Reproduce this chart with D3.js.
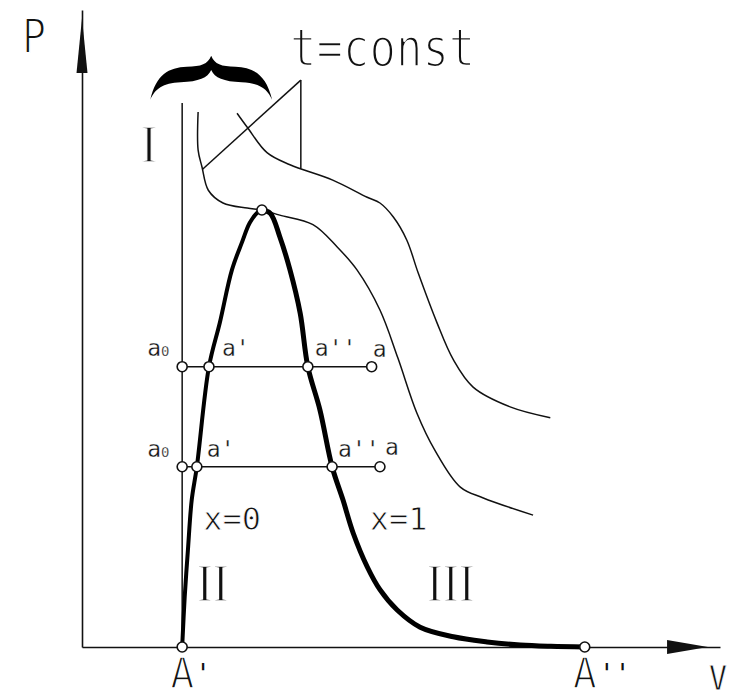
<!DOCTYPE html>
<html>
<head>
<meta charset="utf-8">
<script src="https://cdn.jsdelivr.net/npm/d3@7"></script>
<style>
  html, body { margin: 0; background: #fff; }
  svg { display: block; }
</style>
</head>
<body>
<svg id="chart" width="732" height="699"></svg>
<script>
// p–v diagram: saturation dome (x=0 / x=1), two isotherms, two isobars.
// Units: v and p on a 0..100 relative scale.

// boundary curve x = 0 (saturated liquid), from A' up to the critical point
const satLiquid = [[15.7,0],[16.1,7.9],[16.6,15.2],[17.2,23.1],[18.0,28.3],[19.9,44.0],
  [21.6,50.9],[23.5,59.2],[25.1,63.6],[26.3,66.6],[27.6,68.3],[28.2,68.6]];
// boundary curve x = 1 (dry saturated vapour), from the critical point down to A''
const satVapour = [[28.2,68.6],[29.5,68.1],[31.0,64.4],[32.6,59.2],[34.2,52.4],[35.4,44.0],
  [37.3,37.2],[39.2,28.3],[40.9,23.1],[42.5,17.9],[44.7,12.6],[46.7,9.0],[49.4,5.8],
  [53.0,3.1],[58.2,1.6],[63.5,0.8],[68.7,0.3],[73.5,0.1],[78.8,0]];
// critical isotherm (passes through the critical point)
const isothermCritical = [[18.2,84.0],[18.2,78.0],[18.8,75.4],[19.8,71.7],[22.1,69.7],
  [25.9,68.9],[28.2,68.6],[31.0,67.8],[36.2,66.3],[40.0,62.8],[43.1,59.2],[46.7,52.9],
  [49.5,45.4],[52.5,36.7],[55.3,30.9],[59.3,25.1],[62.9,23.4],[70.7,20.7]];
// supercritical isotherm
const isothermHigh = [[24.3,83.8],[25.9,81.6],[29.0,77.6],[32.6,75.7],[39.3,73.3],
  [44.7,70.6],[46.7,69.7],[48.8,67.5],[50.9,63.9],[52.7,58.7],[55.6,51.0],[58.2,45.1],
  [61.3,40.8],[67.1,37.7],[73.4,36.0]];
// liquid limit line (v0 at the lowest temperature)
const liquidLimit = [[15.7,0],[15.7,85.4]];
// isobars: pressure and the states a0, a', a'', a along each one
const isobarPressure = [44.0, 28.3];
const isobarVolumes = [[15.7,19.9,35.4,45.4],[15.7,18.0,39.2,46.7]];
const stateNames = ["a0", "a'", "a''", "a"];
// characteristic points
const criticalPoint = [28.2, 68.6];
const pointA1 = [15.7, 0];
const pointA2 = [78.8, 0];
// "t=const" leader lines: from the apex to each isotherm
const leaderApex = [34.3, 89.0];
const leaderEnds = [[18.9, 75.0], [34.3, 75.1]];
// region numerals
const regionNames = ["I", "II", "III"];

const svg = d3.select("#chart");
const x = d3.scaleLinear().domain([0, 100]).range([82, 720]);
const y = d3.scaleLinear().domain([0, 100]).range([647, 10]);
const curve = d3.line().x(d => x(d[0])).y(d => y(d[1])).curve(d3.curveCatmullRom.alpha(0.5));
const straight = d3.line().x(d => x(d[0])).y(d => y(d[1]));

// axes without ticks
const gx = svg.append("g").attr("transform", `translate(0,${y(0)})`)
  .call(d3.axisBottom(x).tickValues([]).tickSizeOuter(0));
const gy = svg.append("g").attr("transform", `translate(${x(0)},0)`)
  .call(d3.axisLeft(y).tickValues([]).tickSizeOuter(0));
[gx, gy].forEach(g => g.select(".domain").attr("stroke", "#111").attr("stroke-width", 1.6));

// arrowheads
svg.append("path").attr("fill", "#111")
  .attr("d", `M${x(0)-5.5},${y(90.1)}L${x(0)},${y(98.7)}L${x(0)+5.5},${y(90.1)}Z`);
svg.append("path").attr("fill", "#111")
  .attr("d", `M${x(91.7)},${y(0)-7}L${x(98.1)},${y(0)}L${x(91.7)},${y(0)+7}Z`);

// thin lines: liquid limit, isotherms, leaders, isobars
const thin = svg.append("g").attr("fill", "none").attr("stroke", "#111").attr("stroke-width", 1.5);
thin.append("path").attr("d", straight(liquidLimit));
thin.append("path").attr("d", curve(isothermCritical));
thin.append("path").attr("d", curve(isothermHigh));
leaderEnds.forEach(e => thin.append("path").attr("d", straight([leaderApex, e])));
isobarPressure.forEach((p, i) => {
  const vs = isobarVolumes[i];
  thin.append("path").attr("d", straight([[vs[0], p], [vs[vs.length - 1], p]]));
});

// saturation dome
svg.append("path").attr("fill", "none").attr("stroke", "#000").attr("stroke-width", 4)
  .attr("stroke-linejoin", "round").attr("d", curve(satLiquid));
svg.append("path").attr("fill", "none").attr("stroke", "#000").attr("stroke-width", 5)
  .attr("stroke-linejoin", "round").attr("d", curve(satVapour));

// curly brace grouping the isotherms
function braceOutline(x0, x1, yTop, yBot) {
  const P = (u, w) => `${x0 + u * (x1 - x0)},${yTop + w * (yBot - yTop)}`;
  return `M${P(0.5,0)}C${P(0.47,0.2)} ${P(0.42,0.24)} ${P(0.3,0.25)}` +
    `C${P(0.15,0.27)} ${P(0.05,0.42)} ${P(0,1)}` +
    `C${P(0.04,0.75)} ${P(0.1,0.62)} ${P(0.25,0.6)}` +
    `C${P(0.4,0.58)} ${P(0.47,0.5)} ${P(0.5,0.32)}` +
    `C${P(0.53,0.5)} ${P(0.6,0.58)} ${P(0.75,0.6)}` +
    `C${P(0.9,0.62)} ${P(0.96,0.75)} ${P(1,1)}` +
    `C${P(0.95,0.42)} ${P(0.85,0.27)} ${P(0.7,0.25)}` +
    `C${P(0.58,0.24)} ${P(0.53,0.2)} ${P(0.5,0)}Z`;
}
svg.append("path").attr("fill", "#000")
  .attr("d", braceOutline(x(10.7), x(29.8), y(92.8), y(85.9)));

// state points on the isobars
const dots = svg.append("g").attr("fill", "#fff").attr("stroke", "#111").attr("stroke-width", 1.6);
isobarPressure.forEach((p, i) => {
  isobarVolumes[i].forEach(v => dots.append("circle").attr("cx", x(v)).attr("cy", y(p)).attr("r", 5));
});
[criticalPoint, pointA1, pointA2].forEach(d =>
  dots.append("circle").attr("cx", x(d[0])).attr("cy", y(d[1])).attr("r", 5));

// text: thin strokes obtained by eroding the glyph edge with a white stroke
function label(parts, px, py, opt) {
  const size = opt.size, sy = opt.sy || 1;
  const t = svg.append("text")
    .attr("transform", `translate(${px},${py}) scale(1,${sy})`)
    .attr("font-family", opt.family || "DejaVu Sans Mono")
    .attr("font-size", size)
    .attr("text-anchor", opt.anchor || "start")
    .attr("fill", "#111");
  const erode = opt.erode != null ? opt.erode : Math.max(0, size * 0.086 - 1.9);
  if (erode > 0) t.attr("stroke", "#fff").attr("stroke-width", erode);
  (Array.isArray(parts) ? parts : [parts]).forEach(p => {
    if (typeof p === "string") t.append("tspan").text(p);
    else t.append("tspan").text(p.t).attr("font-size", p.size || size).attr("dx", p.dx || 0).attr("dy", p.dy || 0);
  });
  return t;
}

// axis titles
label("P", x(0) - 60, y(100) + 43, { size: 40, sy: 1.2 });
label("V", x(100) - 2, y(0) + 43, { size: 30, sy: 1.15, anchor: "middle" });
label("t=const", x(32.6), y(91.2), { size: 44, sy: 1.2 });

// A' and A''
label("A", x(pointA1[0]), y(0) + 41, { size: 40, sy: 1.05, anchor: "middle" });
label("'", x(pointA1[0]) + 21, y(0) + 36, { size: 26, erode: 0, anchor: "middle" });
label("A", x(pointA2[0]), y(0) + 41, { size: 40, sy: 1.05, anchor: "middle" });
label("''", x(pointA2[0]) + 30, y(0) + 36, { size: 26, erode: 0, anchor: "middle" });

// region numerals
label(regionNames[0], x(10.5), y(76.1), { size: 48, sy: 1.12, anchor: "middle", family: "Liberation Serif", erode: 1.2 });
label(regionNames[1], x(20.5), y(7.2), { size: 48, sy: 1.12, anchor: "middle", family: "Liberation Serif", erode: 1.2 });
label(regionNames[2], x(57.8), y(7.2), { size: 48, sy: 1.12, anchor: "middle", family: "Liberation Serif", erode: 1.2 });

// dryness labels
label("x=0", x(19.0), y(18.4), { size: 32, sy: 1.0 });
label("x=1", x(45.1), y(18.4), { size: 32, sy: 1.0 });

// state labels next to each point
const labelOffsets = [
  [[-35, -11], [13, -11], [7, -11], [1, -10]],
  [[-35, -10], [10, -10], [6, -10], [5, -12]]
];
isobarPressure.forEach((p, i) => {
  isobarVolumes[i].forEach((v, j) => {
    const [dx, dy] = labelOffsets[i][j];
    const name = stateNames[j];
    const parts = name === "a0" ? ["a", { t: "0", size: 14 }] : name;
    label(parts, x(v) + dx, y(p) + dy, { size: 23, erode: 0.3 });
  });
});
</script>
</body>
</html>
